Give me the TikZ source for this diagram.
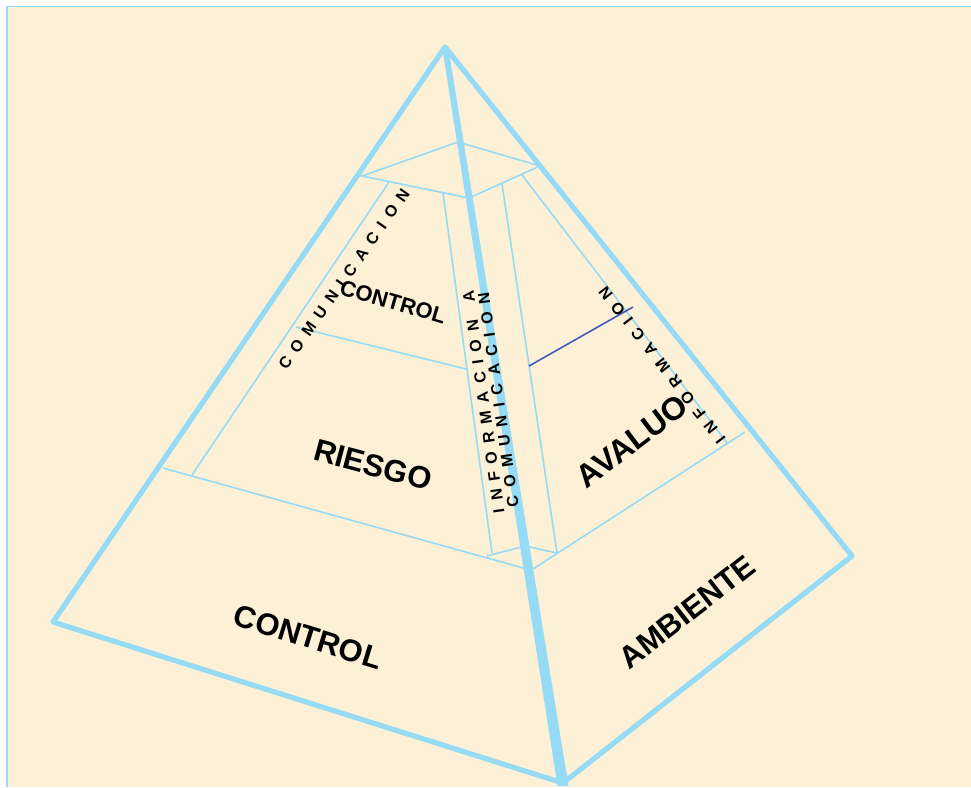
\documentclass[tikz,border=0pt]{standalone}
\usepackage{fontspec}
\setmainfont{Liberation Sans}
\newfontfamily\spacedfont[LetterSpace=50]{Liberation Sans}
\usetikzlibrary{calc}
\definecolor{pblue}{RGB}{150,219,245}
\definecolor{dblue}{RGB}{70,90,190}
\definecolor{bgbeige}{RGB}{252,240,215}
\begin{document}
\begin{tikzpicture}[x=1pt,y=-1pt,
  outeredge/.style={draw=pblue,line width=5.2pt,line cap=round,line join=round},
  thinline/.style={draw=pblue,line width=1.6pt},
  bigtext/.style={font=\fontsize{31}{34}\selectfont\bfseries,inner sep=0pt},
  midtext/.style={font=\fontsize{22}{25}\selectfont\bfseries,inner sep=0pt},
  smalltext/.style={font=\fontsize{16}{15}\selectfont\spacedfont\bfseries,inner sep=0pt}]
\useasboundingbox (0,0) rectangle (971,787);
\fill[white] (0,0) rectangle (971,787);
\fill[bgbeige] (7,7) rectangle (971,787);
\draw[pblue,line width=1.5pt] (7,787) -- (7,6.5) -- (971,6.5);

% outer corners
\coordinate (A) at (445,47);
\coordinate (L) at (53,622);
\coordinate (F) at (563,783);
\coordinate (R) at (852,556);
% top quad
\coordinate (Q1) at (362,176);
\coordinate (Q2) at (458,142);
\coordinate (Q3) at (540,166);
\coordinate (Q4) at (469,198);
% inner lines
\coordinate (P1) at (389,182);
\coordinate (P2) at (192,475);
\coordinate (S1) at (443,193);
\coordinate (S2) at (492,553);
\coordinate (S3) at (502,184);
\coordinate (S4) at (557,553);
\coordinate (P3) at (522,175);
\coordinate (P4) at (728,444);
% dividers
\coordinate (D1) at (296,327);
\coordinate (D2) at (466,369);
\coordinate (D3) at (163,468);
\coordinate (D4) at (527,569);
\coordinate (E1) at (745,432);
\coordinate (E2) at (533,569);
\coordinate (B1) at (487,556);
\coordinate (B2) at (525,546);
\coordinate (K1) at (529,366);
\coordinate (K2) at (633,307);

% thin inner structure
\draw[thinline] (Q1) -- (Q2) -- (Q3) -- (Q4) -- cycle;
\draw[thinline] (P1) -- (P2);
\draw[thinline] (S1) -- (S2);
\draw[thinline] (S3) -- (S4);
\draw[thinline] (P3) -- (P4);
\draw[thinline] (D1) -- (D2);
\draw[thinline] (D3) -- (D4);
\draw[thinline] (E1) -- (E2);
\draw[thinline] (B1) -- (B2) -- (S4);
\draw[dblue,line width=1.6pt] (K1) -- (K2);

% outer edges
\draw[outeredge] (L) -- (A) -- (R) -- (F) -- cycle;
\fill[pblue] ($(A)+(-3,-1)$) -- ($(A)+(3,-1)$) -- ($(F)+(5.5,3)$) -- ($(F)+(-5.5,3)$) -- cycle;

% texts
\node[smalltext,rotate=55] (tcom) at (344,279) {COMUNICACION};
\node[midtext,rotate=-16] (tctrlup) at (393,302) {CONTROL};
\node[bigtext,rotate=-15] (triesgo) at (373,465) {RIESGO};
\node[bigtext,rotate=-17] (tctrllow) at (308,637) {CONTROL};
\node[bigtext,rotate=38] (tamb) at (687,612) {AMBIENTE};
\node[bigtext,rotate=37,font=\fontsize{32}{34}\selectfont\bfseries] (taval) at (632,441) {AVALUO};
\node[smalltext,rotate=128] (tinfr) at (662,365) {INFORMACION};
\node[smalltext,rotate=98,align=center] (tmid) at (491,401) {INFORMACION\hspace{18pt}A\\COMUNICACION};
\end{tikzpicture}
\end{document}
